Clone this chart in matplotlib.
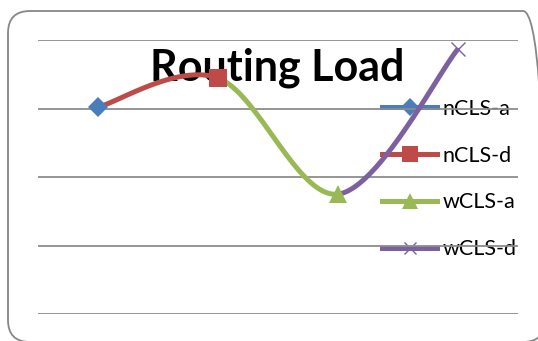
import numpy as np
import matplotlib
matplotlib.use("Agg")
import matplotlib.pyplot as plt
from matplotlib.patches import FancyBboxPatch
from matplotlib.lines import Line2D
from matplotlib.transforms import IdentityTransform

plt.rcParams['font.family'] = ['Lato', 'DejaVu Sans']

# Chart data
series = ['nCLS-a', 'nCLS-d', 'wCLS-a', 'wCLS-d']
categories = [1, 2, 3, 4]
routing_load = [3.02, 3.445, 1.75, 3.87]

colors = ['#4A7EBB', '#BE4B48', '#98B954', '#7D60A0']
markers = ['D', 's', '^', 'x']
msizes = [10.0, 13.0, 13.5, 10.0]

W, H = 538, 341
fig = plt.figure(figsize=(W / 100, H / 100), dpi=100)
fig.patch.set_facecolor('white')

# rounded chart frame (pixel coordinates)
frame = FancyBboxPatch((8, -1), 537, 331,
                       boxstyle="round,pad=0,rounding_size=22",
                       transform=IdentityTransform(), facecolor='none',
                       edgecolor='#878787', linewidth=1.3, zorder=-5)
fig.patches.append(frame)

ax = fig.add_axes([38 / W, 27 / H, 480 / W, 274 / H])
ax.set_facecolor('none')
ax.set_xlim(0.5, 4.5)
ax.set_ylim(0, 4)
for s in ax.spines.values():
    s.set_visible(False)
ax.set_xticks([])
ax.set_yticks([0, 1, 2, 3, 4])
ax.tick_params(left=False, labelleft=False)
ax.yaxis.grid(True, color='#8C8C8C', linewidth=1.3)
ax.set_axisbelow(True)

# smoothed curve (cardinal spline, Excel-style) through the points
x = np.array(categories, dtype=float)
y = np.array(routing_load, dtype=float)
P = np.column_stack([x, y])
n = len(P)
t = np.linspace(0, 1, 60)[:, None]
for i in range(n - 1):
    p0 = P[i]
    p3 = P[i + 1]
    prev = P[i - 1] if i > 0 else P[i]
    nxt = P[i + 2] if i + 2 < n else P[i + 1]
    c1 = p0 + (p3 - prev) / 6.0
    c2 = p3 - (nxt - p0) / 6.0
    curve = ((1 - t) ** 3) * p0 + 3 * ((1 - t) ** 2) * t * c1 + 3 * (1 - t) * t ** 2 * c2 + t ** 3 * p3
    ax.plot(curve[:, 0], curve[:, 1], color=colors[i + 1], linewidth=3.6,
            solid_capstyle='butt', zorder=3 + i)

for i, name in enumerate(series):
    ax.plot([categories[i]], [routing_load[i]], linestyle='none',
            marker=markers[i], markersize=msizes[i], color=colors[i],
            markeredgecolor=colors[i], markeredgewidth=1.0 if markers[i] == 'x' else 0,
            zorder=10)

# title drawn beneath the plotted lines
fig.text(277 / W, (H - 81) / H, 'Routing Load', ha='center', va='baseline',
         fontsize=31, fontweight='bold', color='black', zorder=-1)

handles = [Line2D([], [], color=colors[i], linewidth=3.6, marker=markers[i],
                  markersize=msizes[i] * 0.9, markeredgecolor=colors[i],
                  markeredgewidth=1.0 if markers[i] == 'x' else 0)
           for i in range(len(series))]
fs_px = 15.5 * 100 / 72
leg = fig.legend(handles, series, loc='upper left',
                 bbox_to_anchor=(382 / W, (H - 99) / H),
                 frameon=False, fontsize=15.5, handlelength=55 / fs_px,
                 handletextpad=6 / fs_px, labelspacing=1.24, borderpad=0,
                 borderaxespad=0)
leg.set_zorder(-1)

fig.savefig('out.png', dpi=100, facecolor='white')
